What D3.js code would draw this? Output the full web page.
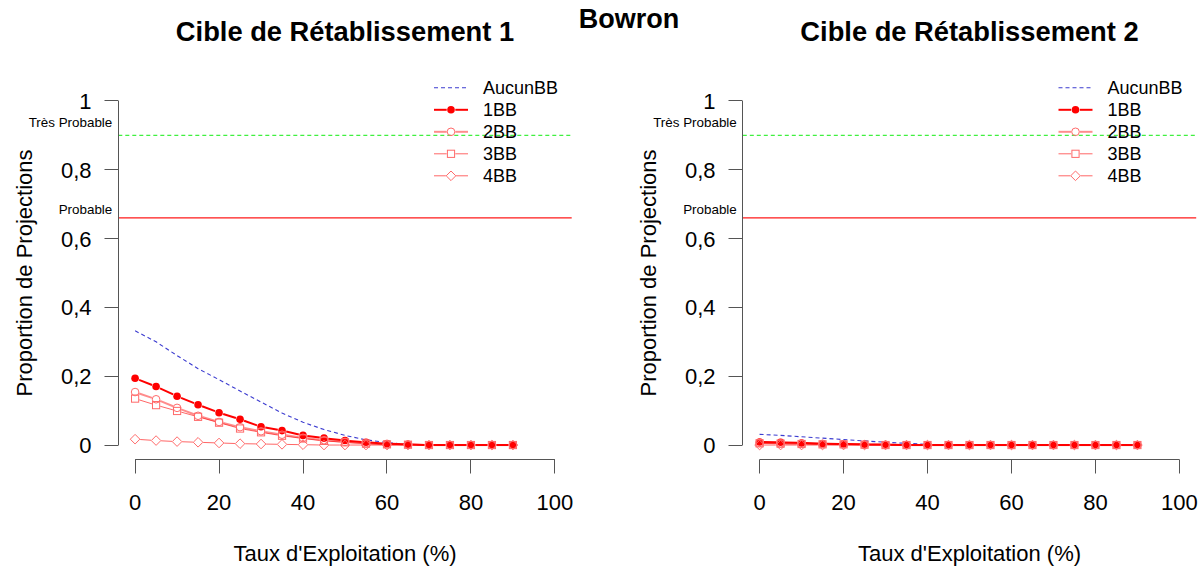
<!DOCTYPE html>
<html><head><meta charset="utf-8">
<script src="https://cdn.jsdelivr.net/npm/d3@7"></script>
<style>body{margin:0;background:#fff;}svg{display:block;font-family:"Liberation Sans",Arial,sans-serif;}</style>
</head><body>
<script>
const mainTitle = "Bowron";
const panelTitles = ["Cible de Rétablissement 1", "Cible de Rétablissement 2"];
const xLabel = "Taux d'Exploitation (%)";
const yLabel = "Proportion de Projections";
const exploitation = [0,5,10,15,20,25,30,35,40,45,50,55,60,65,70,75,80,85,90];
const xTicks = [0,20,40,60,80,100];
const yTicks = [0,0.2,0.4,0.6,0.8,1];
const seriesNames = ["AucunBB","1BB","2BB","3BB","4BB"];
const thresholdVeryLikely = 0.9;
const thresholdLikely = 0.66;
// Panel 1
const p1Aucun = [0.332,0.300,0.260,0.222,0.190,0.157,0.125,0.093,0.066,0.045,0.028,0.015,0.007,0.002,0,0,0,0,0];
const p1BB1 = [0.194,0.170,0.142,0.117,0.094,0.075,0.053,0.042,0.028,0.020,0.013,0.008,0.004,0.002,0,0,0,0,0];
const p1BB2 = [0.154,0.133,0.108,0.085,0.067,0.052,0.040,0.030,0.021,0.014,0.009,0.005,0.002,0.001,0,0,0,0,0];
const p1BB3 = [0.135,0.116,0.099,0.082,0.065,0.048,0.037,0.027,0.019,0.012,0.008,0.004,0.002,0.001,0,0,0,0,0];
const p1BB4 = [0.017,0.013,0.010,0.008,0.006,0.004,0.003,0.002,0.001,0,0,0,0,0,0,0,0,0,0];
// Panel 2
const p2Aucun = [0.031,0.028,0.024,0.020,0.016,0.012,0.008,0.005,0.002,0,0,0,0,0,0,0,0,0,0];
const p2BB1 = [0.009,0.008,0.006,0.004,0.003,0.002,0.001,0,0,0,0,0,0,0,0,0,0,0,0];
const p2BB2 = [0.006,0.005,0.004,0.003,0.002,0.001,0.001,0,0,0,0,0,0,0,0,0,0,0,0];
const p2BB3 = [0.005,0.004,0.003,0.002,0.002,0.001,0,0,0,0,0,0,0,0,0,0,0,0,0];
const p2BB4 = [0,0,0,0,0,0,0,0,0,0,0,0,0,0,0,0,0,0,0];

const W = 1201, H = 569;
const svg = d3.select("body").append("svg").attr("width", W).attr("height", H);

const styles = {
  "AucunBB": {stroke:"#3c3cd0", width:1.1, dash:"4,3", sym:null},
  "1BB": {stroke:"#ff0000", width:2, dash:null, sym:"circleFilled", symStroke:"#ff0000"},
  "2BB": {stroke:"rgba(255,0,0,0.45)", width:2, dash:null, sym:"circle", symStroke:"#ff6a6a"},
  "3BB": {stroke:"rgba(255,0,0,0.6)", width:1, dash:null, sym:"square", symStroke:"#ff6a6a"},
  "4BB": {stroke:"rgba(255,0,0,0.6)", width:1, dash:null, sym:"diamond", symStroke:"#ff6a6a"}
};
const symR = {circleFilled:3.8, circle:3.8, square:3.8, diamond:4.6};

function drawSymbol(g, type, cx, cy, st) {
  if (type === "circleFilled") {
    g.append("circle").attr("cx",cx).attr("cy",cy).attr("r",3.8).attr("fill",st.symStroke);
  } else if (type === "circle") {
    g.append("circle").attr("cx",cx).attr("cy",cy).attr("r",3.8).attr("fill","none").attr("stroke",st.symStroke).attr("stroke-width",1);
  } else if (type === "square") {
    g.append("rect").attr("x",cx-3.6).attr("y",cy-3.6).attr("width",7.2).attr("height",7.2).attr("fill","none").attr("stroke",st.symStroke).attr("stroke-width",1);
  } else if (type === "diamond") {
    const r = 4.8;
    g.append("path").attr("d",`M${cx},${cy-r}L${cx+r},${cy}L${cx},${cy+r}L${cx-r},${cy}Z`).attr("fill","none").attr("stroke",st.symStroke).attr("stroke-width",1);
  }
}

const crisp = v => Math.round(v - 0.5) + 0.5;

function drawPanel(offsetX, title, data) {
  const x = d3.scaleLinear().domain([-4,104]).range([118.3+offsetX, 571.7+offsetX]);
  const y = d3.scaleLinear().domain([-0.04,1.04]).range([458.8, 87.2]);
  const g = svg.append("g");
  const fmt = v => String(+v.toFixed(1)).replace(".", ",");

  // threshold lines
  g.append("line").attr("x1",x.range()[0]).attr("x2",x.range()[1]).attr("y1",y(thresholdVeryLikely)).attr("y2",y(thresholdVeryLikely))
    .attr("stroke","#40f040").attr("stroke-width",1.3).attr("stroke-dasharray","4,3");
  g.append("line").attr("x1",x.range()[0]).attr("x2",x.range()[1]).attr("y1",y(thresholdLikely)).attr("y2",y(thresholdLikely))
    .attr("stroke","#ff1a1a").attr("stroke-width",1.3);
  g.append("text").attr("x",x.range()[0]-6).attr("y",y(thresholdVeryLikely)-8.5).attr("text-anchor","end")
    .attr("font-size",13.4).text("Très Probable");
  g.append("text").attr("x",x.range()[0]-6).attr("y",y(thresholdLikely)-3.5).attr("text-anchor","end")
    .attr("font-size",13.4).text("Probable");

  // y axis
  const ax = crisp(x.range()[0]);
  g.append("line").attr("x1",ax).attr("x2",ax).attr("y1",y(0)).attr("y2",y(1)).attr("stroke","#555");
  yTicks.forEach(t => {
    g.append("line").attr("x1",ax).attr("x2",ax-14).attr("y1",crisp(y(t))).attr("y2",crisp(y(t))).attr("stroke","#555");
    g.append("text").attr("x",ax-27).attr("y",y(t)).attr("dy","0.36em").attr("text-anchor","end").attr("font-size",22).text(fmt(t));
  });
  // x axis
  const ay = 459.5;
  g.append("line").attr("x1",x(0)).attr("x2",x(100)).attr("y1",ay).attr("y2",ay).attr("stroke","#555");
  xTicks.forEach(t => {
    g.append("line").attr("x1",crisp(x(t))).attr("x2",crisp(x(t))).attr("y1",ay).attr("y2",ay+14).attr("stroke","#555");
    g.append("text").attr("x",x(t)).attr("y",509.5).attr("text-anchor","middle").attr("font-size",22).text(t);
  });
  // labels
  g.append("text").attr("x",(x.range()[0]+x.range()[1])/2).attr("y",560.5).attr("text-anchor","middle").attr("font-size",22).text(xLabel);
  g.append("text").attr("transform",`translate(${31.5+offsetX},273) rotate(-90)`).attr("text-anchor","middle").attr("font-size",22).text(yLabel);
  g.append("text").attr("x",(x.range()[0]+x.range()[1])/2).attr("y",41).attr("text-anchor","middle").attr("font-size",27.3).attr("font-weight","bold").text(title);

  // series
  seriesNames.forEach((name, si) => {
    const st = styles[name];
    const vals = data[si];
    const pts = exploitation.map((e,i) => [x(e), y(vals[i])]);
    const sg = g.append("g");
    if (!st.sym) {
      sg.append("path").attr("d", d3.line()(pts)).attr("fill","none").attr("stroke",st.stroke)
        .attr("stroke-width",st.width).attr("stroke-dasharray",st.dash);
    } else {
      const gap = symR[st.sym] + 0.5;
      for (let i = 0; i < pts.length-1; i++) {
        const [x1,y1] = pts[i], [x2,y2] = pts[i+1];
        const dx = x2-x1, dy = y2-y1, L = Math.hypot(dx,dy);
        if (L <= 2*gap) continue;
        const ux = dx/L, uy = dy/L;
        sg.append("line").attr("x1",x1+ux*gap).attr("y1",y1+uy*gap).attr("x2",x2-ux*gap).attr("y2",y2-uy*gap)
          .attr("stroke",st.stroke).attr("stroke-width",st.width);
      }
      pts.forEach(([px,py]) => drawSymbol(sg, st.sym, px, py, st));
    }
  });

  // legend
  const lx1 = 434+offsetX, lx2 = 468+offsetX, lcx = (lx1+lx2)/2;
  seriesNames.forEach((name, i) => {
    const st = styles[name];
    const ly = 87.8 + i*22;
    if (!st.sym) {
      g.append("line").attr("x1",lx1).attr("x2",lx2).attr("y1",ly).attr("y2",ly).attr("stroke",st.stroke)
        .attr("stroke-width",st.width).attr("stroke-dasharray",st.dash);
    } else {
      const gap = symR[st.sym] + 0.5;
      g.append("line").attr("x1",lx1).attr("x2",lcx-gap).attr("y1",ly).attr("y2",ly).attr("stroke",st.stroke).attr("stroke-width",st.width);
      g.append("line").attr("x1",lcx+gap).attr("x2",lx2).attr("y1",ly).attr("y2",ly).attr("stroke",st.stroke).attr("stroke-width",st.width);
      drawSymbol(g, st.sym, lcx, ly, st);
    }
    g.append("text").attr("x",483+offsetX).attr("y",ly).attr("dy","0.36em").attr("font-size",18).text(name);
  });
}

drawPanel(0, panelTitles[0], [p1Aucun,p1BB1,p1BB2,p1BB3,p1BB4]);
drawPanel(624.5, panelTitles[1], [p2Aucun,p2BB1,p2BB2,p2BB3,p2BB4]);

svg.append("text").attr("x",629).attr("y",28).attr("text-anchor","middle").attr("font-size",27).attr("font-weight","bold").text(mainTitle);
</script>
</body></html>
